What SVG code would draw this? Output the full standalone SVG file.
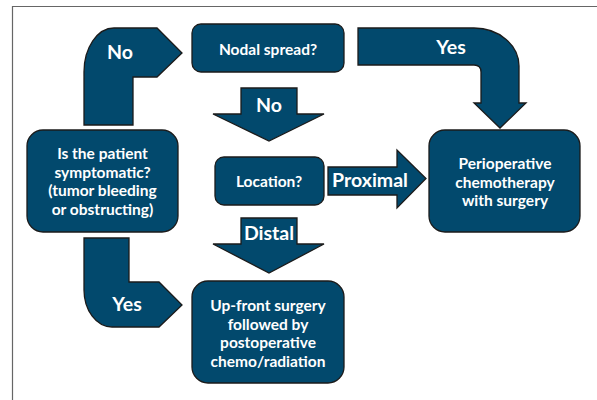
<svg xmlns="http://www.w3.org/2000/svg" width="597" height="400" viewBox="0 0 597 400">
<style>
.shape{fill:#02496d;stroke:#1b1b1b;stroke-width:1.3;stroke-linejoin:miter}
.t{font-family:Lato,"Open Sans","Liberation Sans",sans-serif;font-weight:700;fill:#ffffff;text-anchor:middle}
.n{font-size:15.5px}
.lbl{font-size:19.5px}
.frame{stroke:#666;stroke-width:1.2;fill:none}
</style>
<rect width="597" height="400" fill="#ffffff"/>
<path class="frame" d="M12.5,400 L12.5,6.5 L597,6.5"/>
<g id="connectors">
  <path class="shape" d="M84,125 L84,72 A30,44 0 0 1 114,28 L157,28 L182,53 L157,77 L133,77 L133,125 Z"/>
  <text class="t lbl" x="120" y="59">No</text>
  <path class="shape" d="M358,28 L474,28 A45,38 0 0 1 519,66 L519,103 L526,103 L500,128 L474,103 L481,103 L481,72 Q481,65 474,65 L358,65 Z"/>
  <text class="t lbl" x="451" y="54">Yes</text>
  <path class="shape" d="M241,88 L297,88 L297,114 L324,114 L269,141 L213,114 L241,114 Z"/>
  <text class="t lbl" x="269" y="112">No</text>
  <path class="shape" d="M328,167 L397,167 L397,150 L426,178.5 L397,208 L397,195 L328,195 Z"/>
  <text class="t lbl" x="370" y="187">Proximal</text>
  <path class="shape" d="M241,218 L297,218 L297,244 L324,244 L269,273 L213,244 L241,244 Z"/>
  <text class="t lbl" x="269" y="240">Distal</text>
  <path class="shape" d="M84,238 L129,238 L129,282 L159,282 L182,305 L159,327 L112,327 A28,37 0 0 1 84,290 Z"/>
  <text class="t lbl" x="127" y="311">Yes</text>
</g>
<g id="nodal">
  <rect class="shape" x="192" y="24" width="152" height="48" rx="9"/>
  <text class="t n" x="268" y="54.5">Nodal spread?</text>
</g>
<g id="patient">
  <rect class="shape" x="27" y="130" width="151" height="102" rx="16"/>
  <text class="t n" x="102.5" y="159">Is the patient</text>
  <text class="t n" x="102.5" y="177.5">symptomatic?</text>
  <text class="t n" x="102.5" y="196">(tumor bleeding</text>
  <text class="t n" x="102.5" y="214.5">or obstructing)</text>
</g>
<g id="location">
  <rect class="shape" x="215" y="157" width="109" height="48" rx="9"/>
  <text class="t n" x="269" y="186.5">Location?</text>
</g>
<g id="perioperative">
  <rect class="shape" x="429" y="130" width="151" height="102" rx="16"/>
  <text class="t n" x="505" y="169">Perioperative</text>
  <text class="t n" x="505" y="187.5">chemotherapy</text>
  <text class="t n" x="505" y="206">with surgery</text>
</g>
<g id="upfront">
  <rect class="shape" x="192" y="281" width="152" height="102" rx="16"/>
  <text class="t n" x="268" y="311">Up-front surgery</text>
  <text class="t n" x="268" y="329.5">followed by</text>
  <text class="t n" x="268" y="348">postoperative</text>
  <text class="t n" x="268" y="366.5">chemo/radiation</text>
</g>
</svg>
